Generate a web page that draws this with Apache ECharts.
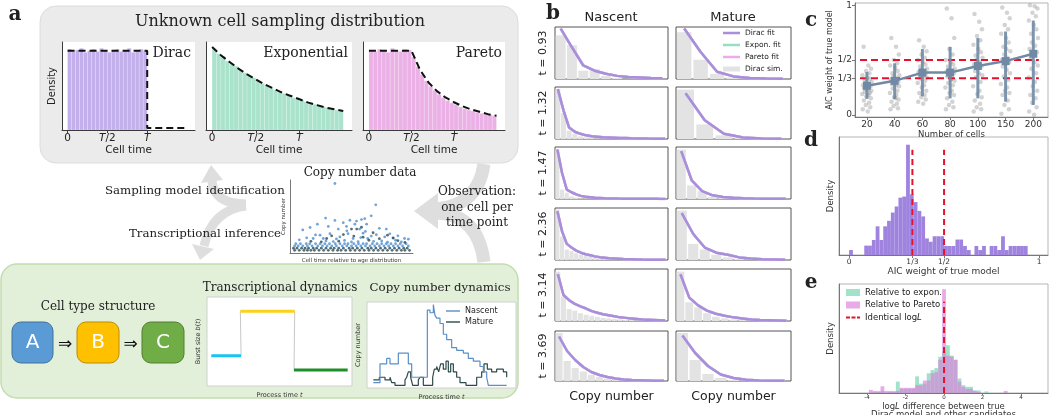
<!DOCTYPE html>
<html>
<head>
<meta charset="utf-8">
<script src="https://cdn.jsdelivr.net/npm/echarts@6/dist/echarts.min.js"></script>
<style>
html, body { margin: 0; padding: 0; background: #fff; }
#chart { width: 1050px; height: 415px; }
</style>
</head>
<body>
<div id="chart"></div>
<script>
var SERIF = 'DejaVu Serif';
var SANS = 'DejaVu Sans';

// panel a: sampling densities, time in units of T
var timeTicks = [0, 0.5, 1];
var timeTickLabels = ['0', '{i|T}/2', '{i|T}'];
var diracHist = [1.02,0.99,1.01,1.03,0.98,1.0,1.02,0.99,1.03,1.0,0.98,1.01,1.02,0.99,1.0,1.03,0.98,1.01,1.02,1.0];
var expHist = [0.98,0.92,0.89,0.83,0.80,0.77,0.72,0.69,0.65,0.63,0.59,0.56,0.54,0.51,0.48,0.46,0.44,0.42,0.39,0.38,0.36,0.34,0.33,0.31,0.29,0.28,0.27,0.25,0.24,0.23];
var paretoHist = [1.01,0.99,1.02,1.0,0.98,1.03,1.0,0.99,1.02,1.01,0.92,0.8,0.7,0.62,0.55,0.5,0.45,0.41,0.37,0.34,0.32,0.29,0.27,0.25,0.24,0.22,0.21,0.2,0.19,0.18];
var diracLine = [[0, 1], [1, 1], [1, 0.025], [1.5, 0.025]];
var expLineT = [0,0.1,0.2,0.3,0.4,0.5,0.6,0.7,0.8,0.9,1.0,1.1,1.2,1.3,1.4,1.5];
var expLine = [1.0,0.9,0.82,0.74,0.67,0.61,0.55,0.5,0.45,0.41,0.37,0.33,0.3,0.27,0.25,0.23];
var paretoLineT = [0,0.5,0.6,0.7,0.8,0.9,1.0,1.1,1.2,1.3,1.4,1.5];
var paretoLine = [1,1,0.76,0.6,0.49,0.41,0.35,0.3,0.26,0.23,0.2,0.18];

// copy number data scatter (cell time 0-100, copy number)
var nascentPts = [[35.7,30.4],[70.9,20.7],[67,15.7],[27.7,14.7],[35.7,13.6],[48.6,13.7],[58.6,14],[61.4,14.4],[8,9.3],[14.3,10.4],[20.6,11.9],[22.9,6.9],[30,10.9],[38.6,9.7],[42.9,12.6],[52.9,11.9],[57,9.7],[63,11.9],[74,10],[80,9.7],[11.4,5.7],[17,5.4],[25.7,5.4],[34.3,4],[40,6.1],[47,7.6],[51.4,5.4],[55.7,4],[64,5.4],[71.4,7.1],[78.6,6.1],[85.7,5.7],[90,6.6],[95.7,5.4],[99,5.1],[31.4,7.6],[45.7,10.9],[54.3,13.3],[19,7],[44,4.5],[60,7.8],[67,6.5],[76,4.3],[83,7.5],[88,4.6],[93,3.9],[5,4.8],[28,4.3],[37,5.2],[50,3.8],[58,5.8],[69,4.1],[81,3.7],[62,8.6],[46,8.9]];
var maturePts = [[50,9.7],[54.5,9.7],[58.6,10.5],[68.6,8],[81,6.9],[28.6,5.4],[32.9,6.6],[43,7.2],[60,6],[74,5.3],[90,4.4],[15,4.1],[39,4.2],[65,4.6],[86,5.6],[52,6.5],[24,3.9],[96,3.6]];
var bandBlue3 = [2,6,11,14,19,23,27,31,36,40,44,47,52,56,60,63,68,72,76,80,84,88,92,97];
var bandBlue2 = [1,4,8,12,16,21,25,29,33,37,42,46,50,54,58,62,66,70,74,78,82,86,90,94,99];
var bandDark1 = [0,3,7,10,13,17,20,24,28,32,35,39,43,48,51,55,59,64,67,71,75,79,83,87,91,95,98];
var bandDark0 = [1,5,9,12,15,18,22,26,30,34,38,41,45,49,53,57,61,65,69,73,77,81,85,89,93,96,100];

// transcriptional dynamics: three stages
var stageStart = [3, 23, 60];
var stageEnd = [23.5, 60.5, 97];
var burstSize = [0.34, 0.84, 0.18];
var stageColors = ['#19c3f5', '#ffd21a', '#1f8f2a'];

// copy number dynamics (process time 0-100)
var nascentT = [0,5,10,12.5,18.75,26.25,28.75,40.5,42.5,45,46.25,47.5,50,52.5,55,58.75,62.5,67.5,71.25,75,80,82.5,85,86.25,100];
var nascentN = [2,9,11,9,13,9,4,29,28,31,27,26,24,20,18,15,14,13,11,10,8,6,4,1,1];
var matureT = [0,4.5,8.75,12.5,13.75,16.25,23.75,25,26.25,28,29.5,33.75,35,37.5,41.25,44.5,45.75,47.5,49,50.5,52.5,54.5,56.25,58,60,62.5,65,69.5,73.75,77.5,81.25,83,85.5,88.75,92.5,97.5,100];
var matureN = [3,4,3,4,2,1,3,4,6,4,1,3,4,1,1,4,7,8,6,9,7,10,6,9,6,4,2,1,1,4,6,9,7,6,7,6,4];

// panel b: simulated histograms and fits, per time point
var tLabels = ['0.93', '1.32', '1.47', '2.36', '3.14', '3.69'];
var nascentSim = [
    [0.84,0.65,0.16,0.19,0.06,0.02,0,0,0,0],
    [0.96,0.5,0.16,0.1,0.05,0.03,0.02,0.01,0,0,0,0,0,0,0,0,0,0,0,0],
    [0.95,0.18,0.12,0.05,0.03,0.01,0.01,0,0,0,0,0,0,0,0,0,0,0,0,0,0,0,0,0],
    [0.97,0.45,0.2,0.17,0.13,0.1,0.08,0.06,0.05,0.04,0.03,0.02,0.02,0.01,0.01,0.01,0,0,0,0,0,0,0,0],
    [0.95,0.47,0.23,0.2,0.15,0.12,0.1,0.08,0.06,0.05,0.04,0.03,0.02,0.02,0.01,0.01,0,0,0,0],
    [0.96,0.4,0.26,0.19,0.12,0.08,0.05,0.03,0.02,0.01,0,0,0,0]
];
var nascentFit = [
    [0.97,0.61,0.26,0.16,0.10,0.06,0.04,0.03,0.02,0.015],
    [0.96,0.55,0.22,0.14,0.1,0.07,0.055,0.045,0.035,0.03,0.025,0.02,0.017,0.014,0.012,0.01,0.008,0.007,0.006,0.005],
    [0.95,0.5,0.18,0.13,0.09,0.06,0.045,0.035,0.025,0.02,0.015,0.012,0.01,0.008,0.007,0.006,0.005,0.004,0.004,0.003,0.003,0.003,0.002,0.002],
    [0.94,0.55,0.31,0.24,0.18,0.14,0.11,0.09,0.07,0.055,0.045,0.035,0.03,0.025,0.02,0.016,0.013,0.01,0.008,0.007,0.006,0.005,0.004,0.003],
    [0.9,0.5,0.4,0.33,0.28,0.24,0.19,0.16,0.13,0.11,0.09,0.07,0.06,0.05,0.04,0.03,0.025,0.02,0.015,0.01],
    [0.89,0.6,0.42,0.28,0.18,0.12,0.08,0.05,0.03,0.02,0.015,0.01,0.005,0.003]
];
var matureSim = [
    [0.9,0.37,0.1,0.03,0.01,0,0],
    [0.95,0.28,0.07,0.02,0,0],
    [0.95,0.26,0.15,0.04,0.02,0.01,0,0,0,0,0],
    [0.95,0.31,0.2,0.1,0.05,0.02,0.01,0,0,0],
    [0.95,0.36,0.26,0.15,0.08,0.05,0.03,0.02,0.01,0,0,0,0],
    [0.96,0.42,0.14,0.06,0.02,0.01,0,0,0]
];
var matureFit = [
    [0.97,0.52,0.14,0.05,0.02,0.01,0.005],
    [0.88,0.36,0.1,0.03,0.01,0.005],
    [0.92,0.36,0.15,0.07,0.04,0.025,0.015,0.01,0.006,0.004,0.003],
    [0.9,0.5,0.24,0.14,0.1,0.05,0.03,0.015,0.01,0.005],
    [0.9,0.45,0.3,0.2,0.14,0.1,0.07,0.05,0.03,0.02,0.015,0.01,0.005],
    [0.91,0.56,0.3,0.13,0.06,0.025,0.01,0.005,0.003]
];

// panel c: AIC weight of true model vs number of cells
var cellCounts = ['20', '40', '60', '80', '100', '150', '200'];
var jitter = [-0.12,0.05,0.15,-0.03,0.09,-0.16,0.02,0.11,-0.08,0.17,-0.05,0.07,-0.14,0.13,0.0,-0.1,0.04,0.16,-0.07,0.1,-0.17,0.06,-0.02,0.14,-0.11,0.08,-0.04,0.12,-0.15,0.03];
var aicWeights = [
    [0.62,0.45,0.42,0.4,0.38,0.36,0.34,0.33,0.31,0.3,0.29,0.28,0.27,0.26,0.25,0.24,0.23,0.22,0.21,0.2,0.19,0.18,0.17,0.15,0.13,0.11,0.09,0.07,0.05,0.03],
    [0.7,0.62,0.55,0.5,0.47,0.45,0.43,0.4,0.38,0.36,0.35,0.33,0.32,0.3,0.29,0.28,0.27,0.26,0.24,0.22,0.2,0.18,0.16,0.14,0.12,0.1,0.08,0.06,0.05,0.15],
    [0.68,0.62,0.58,0.55,0.52,0.5,0.48,0.46,0.44,0.42,0.41,0.4,0.39,0.38,0.37,0.36,0.35,0.34,0.33,0.31,0.29,0.27,0.25,0.22,0.2,0.18,0.16,0.14,0.12,0.1],
    [0.97,0.88,0.7,0.6,0.55,0.5,0.48,0.46,0.44,0.42,0.41,0.4,0.39,0.38,0.36,0.35,0.33,0.31,0.29,0.27,0.25,0.22,0.2,0.18,0.15,0.12,0.09,0.07,0.05,0.32],
    [0.92,0.85,0.78,0.72,0.68,0.64,0.6,0.57,0.54,0.52,0.5,0.48,0.46,0.44,0.42,0.4,0.38,0.36,0.34,0.3,0.26,0.22,0.19,0.16,0.13,0.1,0.07,0.05,0.03,0.45],
    [0.98,0.93,0.88,0.82,0.78,0.74,0.7,0.66,0.62,0.58,0.55,0.52,0.5,0.48,0.46,0.44,0.41,0.38,0.35,0.32,0.28,0.25,0.22,0.2,0.18,0.13,0.09,0.05,0.01,0.6],
    [1.0,0.99,0.97,0.93,0.9,0.86,0.82,0.78,0.74,0.7,0.66,0.63,0.6,0.57,0.54,0.51,0.48,0.45,0.42,0.38,0.34,0.3,0.26,0.22,0.18,0.15,0.11,0.07,0.03,0.0]
];
var aicMean = [0.265, 0.31, 0.385, 0.385, 0.445, 0.49, 0.557];
var aicLow = [0.145, 0.145, 0.17, 0.15, 0.15, 0.12, 0.09];
var aicHigh = [0.39, 0.47, 0.6, 0.62, 0.7, 0.76, 0.86];
var refLevels = [1 / 3, 1 / 2];

// panel d: histogram of AIC weights, bins of 0.02 from 0
var aicBins = [0.045,0,0,0,0.085,0.085,0.136,0.26,0.136,0.26,0.31,0.385,0.44,0.52,0.53,1.0,0.55,0.48,0.4,0.35,0.15,0.12,0.17,0.17,0.17,0.082,0.082,0.082,0.14,0.14,0.082,0.045,0,0.082,0.045,0.082,0,0.082,0.082,0.045,0.17,0.045,0.082,0.082,0.082,0.082,0.082];

// panel e: log-likelihood difference histograms, bin centers -3.8..3.4 step 0.2
var llExpon = [0,0.01,0.02,0.02,0,0.01,0.02,0.11,0.04,0.04,0.04,0.04,0.16,0.09,0.09,0.19,0.22,0.24,0.35,0.4,0.46,0.36,0.32,0.14,0.075,0.06,0.06,0.025,0.025,0,0.015,0,0,0,0,0,0];
var llPareto = [0.03,0.02,0.01,0.065,0.02,0.02,0.01,0.02,0.05,0.05,0.05,0.05,0.075,0.075,0.12,0.12,0.19,0.2,0.32,1.0,0.36,0.35,0.32,0.11,0.06,0.04,0.04,0.02,0.01,0,0,0,0,0,0,0.02,0];

function merge(a, b) {
    if (b) for (var k in b) a[k] = b[k];
    return a;
}

function pairs(xs, ys) {
    return xs.map(function (x, i) { return [x, ys[i]]; });
}

function tickLabel(values, labels) {
    return function (v) {
        for (var i = 0; i < values.length; i++) {
            if (Math.abs(v - values[i]) < 1e-6) return labels[i];
        }
        return '';
    };
}

function histRender(binW, gap, fill, stroke) {
    return function (params, api) {
        var c = api.value(0), h = api.value(1);
        if (!h) return null;
        var p0 = api.coord([c - binW * (1 - gap) / 2, h]);
        var p1 = api.coord([c + binW * (1 - gap) / 2, 0]);
        return {
            type: 'rect',
            shape: { x: p0[0], y: p0[1], width: p1[0] - p0[0], height: p1[1] - p0[1] },
            style: { fill: fill, stroke: stroke || null, lineWidth: stroke ? 0.5 : 0 }
        };
    };
}

var grids = [], xAxes = [], yAxes = [], series = [];

function addGrid(box, gridOpt, xOpt, yOpt) {
    var g = merge({ left: box[0], top: box[1], width: box[2], height: box[3], containLabel: false, outerBoundsMode: 'none' }, gridOpt);
    grids.push(g);
    var i = grids.length - 1;
    var base = function () {
        return { type: 'value', gridIndex: i, axisLine: { show: false }, axisTick: { show: false }, axisLabel: { show: false }, splitLine: { show: false } };
    };
    var xa = merge(base(), xOpt), ya = merge(base(), yOpt);
    // spines stay on the grid edge, not at zero
    xa.axisLine = merge({ onZero: false }, xa.axisLine);
    ya.axisLine = merge({ onZero: false }, ya.axisLine);
    xAxes.push(xa);
    yAxes.push(ya);
    return i;
}

function addSeries(i, s) {
    s.xAxisIndex = i;
    s.yAxisIndex = i;
    series.push(s);
}

var spine = { show: true, lineStyle: { color: '#3a3a3a', width: 1 } };
var italicRich = { i: { fontStyle: 'italic', fontFamily: SANS, fontSize: 10.5, color: '#222' } };

// ---- panel a top: three sampling densities
var densityBoxes = [[62, 42, 133, 88], [206, 42, 146, 88], [363, 42, 142, 88]];
var densityHists = [diracHist, expHist, paretoHist];
var densityFills = ['#c2afeb', '#a9e3cc', '#ebb1e6'];
var densityLines = [diracLine, pairs(expLineT, expLine), pairs(paretoLineT, paretoLine)];
var densityMax = [1.11, 1.06, 1.11];

for (var k = 0; k < 3; k++) {
    var gi = addGrid(densityBoxes[k], { show: true, backgroundColor: '#fff', borderWidth: 0 },
        {
            min: -0.07, max: 1.6, axisLine: spine,
            axisTick: { show: true, customValues: timeTicks, length: 3, lineStyle: { color: '#3a3a3a' } },
            axisLabel: { show: true, customValues: timeTicks, formatter: tickLabel(timeTicks, timeTickLabels), fontFamily: SANS, fontSize: 10.5, color: '#222', margin: 3, rich: italicRich },
            name: 'Cell time', nameLocation: 'middle', nameGap: 15, nameTextStyle: { fontFamily: SANS, fontSize: 10.5, color: '#222' }
        },
        {
            min: 0, max: densityMax[k], axisLine: spine,
            name: k === 0 ? 'Density' : '', nameLocation: 'middle', nameRotate: 90, nameGap: 5,
            nameTextStyle: { fontFamily: SANS, fontSize: 10, color: '#222' }
        });
    addSeries(gi, {
        type: 'custom', clip: true,
        renderItem: histRender(0.05, 0, densityFills[k], 'rgba(255,255,255,0.35)'),
        data: densityHists[k].map(function (v, j) { return [0.025 + 0.05 * j, v]; })
    });
    addSeries(gi, {
        type: 'line', data: densityLines[k], symbol: 'none', z: 5,
        lineStyle: { color: '#111', width: 2, type: [7, 4] }
    });
}

// ---- panel a middle: copy number data
var gs = addGrid([290, 180, 123, 73], {},
    { min: -3, max: 103, axisLine: { show: true, lineStyle: { color: '#555', width: 0.8 } },
      name: 'Cell time relative to age distribution', nameLocation: 'middle', nameGap: 5,
      nameTextStyle: { fontFamily: SANS, fontSize: 5.5, color: '#333' } },
    { min: -1.2, max: 32, axisLine: { show: true, lineStyle: { color: '#555', width: 0.8 } },
      name: 'Copy number', nameLocation: 'middle', nameRotate: 90, nameGap: 3,
      nameTextStyle: { fontFamily: SANS, fontSize: 5.5, color: '#333' } });
var bandPts = function (xs, y) { return xs.map(function (x) { return [x, y]; }); };
addSeries(gs, { type: 'scatter', symbolSize: 2.8, itemStyle: { color: '#2a4a50' },
    data: bandPts(bandDark0, 0).concat(bandPts(bandDark1, 1)) });
addSeries(gs, { type: 'scatter', symbolSize: 2.8, itemStyle: { color: '#4d8fcf' },
    data: nascentPts.concat(bandPts(bandBlue2, 2), bandPts(bandBlue3, 3)) });
addSeries(gs, { type: 'scatter', symbolSize: 2.8, itemStyle: { color: '#2a4a50' }, data: maturePts });

// ---- panel a bottom: transcriptional dynamics
var smallName = function () {
    return { fontFamily: SANS, fontSize: 6.5, color: '#333', rich: { i: { fontStyle: 'italic', fontFamily: SANS, fontSize: 6.5, color: '#333' } } };
};
var gb = addGrid([207, 297, 145, 89], { show: true, backgroundColor: '#fff', borderColor: '#cfcfcf', borderWidth: 1 },
    { min: 0, max: 100, name: 'Process time {i|t}', nameLocation: 'middle', nameGap: 6, nameTextStyle: smallName() },
    { min: 0, max: 1, name: 'Burst size {i|b}({i|t})', nameLocation: 'middle', nameRotate: 90, nameGap: 5, nameTextStyle: smallName() });
var stepPts = [];
for (var s = 0; s < burstSize.length; s++) {
    stepPts.push([stageStart[s], burstSize[s]], [stageEnd[s], burstSize[s]]);
}
addSeries(gb, { type: 'line', data: stepPts, symbol: 'none', lineStyle: { color: '#c8c8c8', width: 1 } });
for (var s2 = 0; s2 < burstSize.length; s2++) {
    addSeries(gb, { type: 'line', symbol: 'none', z: 4, lineStyle: { color: stageColors[s2], width: 3 },
        data: [[stageStart[s2], burstSize[s2]], [stageEnd[s2], burstSize[s2]]] });
}

// ---- panel a bottom: copy number dynamics
var gc = addGrid([367, 302, 149, 86], { show: true, backgroundColor: '#fff', borderColor: '#cfcfcf', borderWidth: 1 },
    { min: -4.75, max: 107, name: 'Process time {i|t}', nameLocation: 'middle', nameGap: 6, nameTextStyle: smallName() },
    { min: 0, max: 32, name: 'Copy number', nameLocation: 'middle', nameRotate: 90, nameGap: 5, nameTextStyle: smallName() });
addSeries(gc, { name: 'Mature', type: 'line', step: 'end', symbol: 'none', data: pairs(matureT, matureN),
    itemStyle: { color: '#2d4a4a' }, lineStyle: { color: '#2d4a4a', width: 1.2 } });
addSeries(gc, { name: 'Nascent', type: 'line', step: 'end', symbol: 'none', data: pairs(nascentT, nascentN),
    itemStyle: { color: '#5a8fc8' }, lineStyle: { color: '#5a8fc8', width: 1.2 } });

// ---- panel b: 6 x 2 small histograms
var rowTops = [27, 87, 147, 208, 269, 331];
var colLeft = [555, 676];
var colWidth = [113, 115];
var fitColors = { dirac: '#a98fdb', expon: '#96dfc4', pareto: '#eeaaea' };
for (var r = 0; r < 6; r++) {
    for (var c = 0; c < 2; c++) {
        var sim = c === 0 ? nascentSim[r] : matureSim[r];
        var fit = c === 0 ? nascentFit[r] : matureFit[r];
        var xo = { min: -0.5, max: sim.length - 0.5 };
        if (r === 5) merge(xo, { name: 'Copy number', nameLocation: 'middle', nameGap: 9, nameTextStyle: { fontFamily: SANS, fontSize: 12.5, color: '#222' } });
        var yo = { min: 0, max: 1 };
        if (c === 0) merge(yo, { name: 't = ' + tLabels[r], nameLocation: 'middle', nameRotate: 90, nameGap: 6, nameTextStyle: { fontFamily: SANS, fontSize: 11, color: '#222' } });
        var gp = addGrid([colLeft[c], rowTops[r], colWidth[c], r === 5 ? 50 : 52],
            { show: true, backgroundColor: '#fff', borderColor: '#555', borderWidth: 1 }, xo, yo);
        var first = (r === 0 && c === 1);
        addSeries(gp, { name: first ? 'Dirac sim.' : '', type: 'custom', clip: true, itemStyle: { color: '#e3e3e3' },
            renderItem: histRender(1, 0.12, '#e3e3e3'),
            data: sim.map(function (v, j) { return [j, v]; }) });
        var fitPts = fit.map(function (v, j) { return [j, v]; });
        addSeries(gp, { name: first ? 'Expon. fit' : '', type: 'line', symbol: 'none', data: fitPts, z: 3,
            itemStyle: { color: fitColors.expon }, lineStyle: { color: fitColors.expon, width: 2.5 } });
        addSeries(gp, { name: first ? 'Pareto fit' : '', type: 'line', symbol: 'none', data: fitPts, z: 4,
            itemStyle: { color: fitColors.pareto }, lineStyle: { color: fitColors.pareto, width: 2.5 } });
        addSeries(gp, { name: first ? 'Dirac fit' : '', type: 'line', symbol: 'none', data: fitPts, z: 5,
            itemStyle: { color: fitColors.dirac }, lineStyle: { color: fitColors.dirac, width: 2.5 } });
    }
}

// ---- panel c
var cIdx = [0, 1, 2, 3, 4, 5, 6];
var cTicks = [0, 1 / 3, 1 / 2, 1];
var axText = { fontFamily: SANS, fontSize: 9, color: '#333' };
var gC = addGrid([855, 3, 193, 114], { show: true, borderColor: '#b5b5b5', borderWidth: 1 },
    { min: -0.43, max: 6.53, axisLine: { show: true, lineStyle: { color: '#777' } },
      axisTick: { show: true, customValues: cIdx, length: 3, lineStyle: { color: '#777' } },
      axisLabel: merge({ show: true, customValues: cIdx, margin: 3, formatter: function (v) { return cellCounts[v]; } }, axText),
      name: 'Number of cells', nameLocation: 'middle', nameGap: 11, nameTextStyle: { fontFamily: SANS, fontSize: 8.5, color: '#333' } },
    { min: -0.02, max: 1.02, axisLine: { show: true, lineStyle: { color: '#777' } },
      axisTick: { show: true, customValues: cTicks, length: 3, lineStyle: { color: '#777' } },
      axisLabel: merge({ show: true, customValues: cTicks, margin: 3, formatter: tickLabel(cTicks, ['0', '1/3', '1/2', '1']) }, axText),
      name: 'AIC weight of true model', nameLocation: 'middle', nameRotate: 90, nameGap: 15,
      nameTextStyle: { fontFamily: SANS, fontSize: 8, color: '#333' } });
var cPts = [];
aicWeights.forEach(function (ws, ci) {
    ws.forEach(function (w, j) { cPts.push([ci + jitter[j], w]); });
});
addSeries(gC, { type: 'scatter', data: cPts, symbolSize: 4.5, itemStyle: { color: 'rgba(110,110,110,0.38)' } });
refLevels.forEach(function (lv) {
    addSeries(gC, { type: 'line', symbol: 'none', z: 3, data: [[-0.25, lv], [6.2, lv]],
        lineStyle: { color: '#e8112d', width: 2, type: [7, 4] } });
});
addSeries(gC, { type: 'custom', z: 4, encode: { x: 0, y: [1, 2] },
    data: cIdx.map(function (i) { return [i, aicLow[i], aicHigh[i]]; }),
    renderItem: function (params, api) {
        var p = api.coord([api.value(0), api.value(1)]);
        var q = api.coord([api.value(0), api.value(2)]);
        return { type: 'line', shape: { x1: p[0], y1: p[1], x2: q[0], y2: q[1] }, style: { stroke: 'rgba(112,138,165,0.9)', lineWidth: 3 } };
    } });
addSeries(gC, { type: 'line', z: 5, data: pairs(cIdx, aicMean), symbol: 'rect', symbolSize: 8,
    itemStyle: { color: '#7089a4' }, lineStyle: { color: '#7089a4', width: 2.5 } });

// ---- panel d
var dTicks = [0, 1 / 3, 1 / 2, 1];
var gD = addGrid([839, 137, 209, 118], { show: true, borderColor: '#b5b5b5', borderWidth: 1 },
    { min: -0.053, max: 1.047, axisLine: { show: true, lineStyle: { color: '#777' } },
      axisTick: { show: true, customValues: dTicks, length: 3, lineStyle: { color: '#777' } },
      axisLabel: { show: true, customValues: dTicks, margin: 3, formatter: tickLabel(dTicks, ['0', '1/3', '1/2', '1']), fontFamily: SANS, fontSize: 7.5, color: '#333' },
      name: 'AIC weight of true model', nameLocation: 'middle', nameGap: 11, nameTextStyle: { fontFamily: SANS, fontSize: 9, color: '#333' } },
    { min: 0, max: 1.07, axisLine: { show: true, lineStyle: { color: '#777' } },
      name: 'Density', nameLocation: 'middle', nameRotate: 90, nameGap: 4, nameTextStyle: { fontFamily: SANS, fontSize: 8.5, color: '#333' } });
addSeries(gD, { type: 'custom', clip: true, renderItem: histRender(0.02, 0, '#9f83df'),
    data: aicBins.map(function (v, j) { return [0.01 + 0.02 * j, v]; }) });
refLevels.forEach(function (lv) {
    addSeries(gD, { type: 'line', symbol: 'none', z: 4, data: [[lv, 0], [lv, 0.955]],
        lineStyle: { color: '#e8112d', width: 2, type: [6, 4] } });
});

// ---- panel e
var eTicks = [-4, -2, 0, 2, 4];
var gE = addGrid([839, 284, 209, 109], { show: true, borderColor: '#b5b5b5', borderWidth: 1 },
    { min: -5.455, max: 5.4, axisLine: { show: true, lineStyle: { color: '#777' } },
      axisTick: { show: true, customValues: eTicks, length: 2, lineStyle: { color: '#777' } },
      axisLabel: { show: true, customValues: eTicks, margin: 2, fontFamily: SANS, fontSize: 5.5, color: '#333' },
      name: 'log{i|L} difference between true\nDirac model and other candidates', nameLocation: 'middle', nameGap: 0,
      nameTextStyle: { fontFamily: SANS, fontSize: 8.5, color: '#333', lineHeight: 8.5,
          rich: { i: { fontStyle: 'italic', fontFamily: SANS, fontSize: 8.5, color: '#333', lineHeight: 8.5 } } } },
    { min: 0, max: 1.05, axisLine: { show: true, lineStyle: { color: '#777' } },
      name: 'Density', nameLocation: 'middle', nameRotate: 90, nameGap: 4, nameTextStyle: { fontFamily: SANS, fontSize: 8.5, color: '#333' } });
addSeries(gE, { name: 'Relative to expon.', type: 'custom', clip: true, itemStyle: { color: 'rgba(128,216,184,0.75)' },
    renderItem: histRender(0.2, 0, 'rgba(128,216,184,0.75)'),
    data: llExpon.map(function (v, j) { return [-3.8 + 0.2 * j, v]; }) });
addSeries(gE, { name: 'Relative to Pareto', type: 'custom', clip: true, itemStyle: { color: 'rgba(218,128,218,0.65)' },
    renderItem: histRender(0.2, 0, 'rgba(218,128,218,0.65)'),
    data: llPareto.map(function (v, j) { return [-3.8 + 0.2 * j, v]; }) });
addSeries(gE, { name: 'Identical logL', type: 'line', symbol: 'none', z: 5, data: [[0, 0], [0, 0.88]],
    itemStyle: { color: '#e8112d' }, lineStyle: { color: '#e8112d', width: 2, type: [6, 4] } });

// ---- legends (line icons drawn as thin bars)
var thinLine = 'path://M0,0H14V1.4H0Z';
var fitLine = 'path://M0,0H17V2.5H0Z';
var dashLine = 'path://M0,0H4V2H0Z M5.5,0H9.5V2H5.5Z M11,0H14V2H11Z';
var legends = [
    { data: [{ name: 'Nascent', icon: thinLine }, { name: 'Mature', icon: thinLine }], left: 446, top: 307, orient: 'vertical',
      itemWidth: 14, itemHeight: 6, itemGap: 3, padding: 0,
      selectedMode: false, textStyle: { fontFamily: SANS, fontSize: 8, color: '#222' } },
    { data: [{ name: 'Dirac fit', icon: fitLine }, { name: 'Expon. fit', icon: fitLine }, { name: 'Pareto fit', icon: fitLine }, { name: 'Dirac sim.', icon: 'rect' }],
      left: 723, top: 29, orient: 'vertical', itemWidth: 17, itemHeight: 5, itemGap: 4, padding: 0,
      selectedMode: false, textStyle: { fontFamily: SANS, fontSize: 7.5, color: '#222' } },
    { data: [{ name: 'Relative to expon.', icon: 'rect' }, { name: 'Relative to Pareto', icon: 'rect' }, { name: 'Identical logL', icon: dashLine }],
      left: 846, top: 288, orient: 'vertical', itemWidth: 14, itemHeight: 7, itemGap: 3.5, padding: 0,
      selectedMode: false,
      formatter: function (n) { return n === 'Identical logL' ? 'Identical log{i|L}' : n; },
      textStyle: { fontFamily: SANS, fontSize: 8.5, color: '#222', rich: { i: { fontStyle: 'italic', fontFamily: SANS, fontSize: 8.5, color: '#222' } } } }
];

// ---- decorations and free text
function txt(x, y, s, size, st) {
    return { type: 'text', x: x, y: y, z: 50,
        style: merge({ text: s, fontFamily: SERIF, fontSize: size, fill: '#222', align: 'center', verticalAlign: 'middle' }, st) };
}
var arrowGray = '#dedede';
function curve(x1, y1, cx, cy, x2, y2, w) {
    return { type: 'bezierCurve', z: -5, shape: { x1: x1, y1: y1, cpx1: cx, cpy1: cy, x2: x2, y2: y2 },
        style: { stroke: arrowGray, lineWidth: w, fill: 'none' } };
}
function head(pts) {
    return { type: 'polygon', z: -5, shape: { points: pts }, style: { fill: arrowGray } };
}

var gfx = [
    { type: 'rect', z: -10, shape: { x: 40, y: 6, width: 478, height: 157, r: 16 }, style: { fill: '#ebebeb', stroke: '#dcdcdc', lineWidth: 1 } },
    { type: 'rect', z: -10, shape: { x: 1, y: 264, width: 517, height: 134, r: 16 }, style: { fill: '#e2efd9', stroke: '#c3ddb0', lineWidth: 1.5 } },
    curve(246, 204, 214, 204, 212, 181, 9),
    curve(246, 206, 212, 210, 204, 246, 9),
    head([[201, 183], [211, 165], [223, 180]]),
    head([[192, 244], [200, 260], [214, 249]]),
    curve(484, 164, 478, 206, 436, 209, 13),
    curve(484, 262, 478, 214, 436, 213, 13),
    head([[438, 193], [414, 211], [438, 229]]),
    { type: 'rect', z: -6, shape: { x: 12, y: 322, width: 41, height: 41, r: 9 }, style: { fill: '#5b9bd5', stroke: '#41719c', lineWidth: 1 } },
    { type: 'rect', z: -6, shape: { x: 77, y: 322, width: 42, height: 41, r: 9 }, style: { fill: '#ffc000', stroke: '#bc8c00', lineWidth: 1 } },
    { type: 'rect', z: -6, shape: { x: 142, y: 322, width: 42, height: 41, r: 9 }, style: { fill: '#70ad47', stroke: '#507e32', lineWidth: 1 } },
    txt(32.5, 343, 'A', 20, { fontFamily: SANS, fill: '#fff' }),
    txt(98, 343, 'B', 20, { fontFamily: SANS, fill: '#fff' }),
    txt(163, 343, 'C', 20, { fontFamily: SANS, fill: '#fff' }),
    txt(65, 345, '\u21d2', 17, { fontFamily: SANS, fill: '#111' }),
    txt(130.5, 345, '\u21d2', 17, { fontFamily: SANS, fill: '#111' }),
    txt(280, 22, 'Unknown cell sampling distribution', 16),
    txt(191, 53, 'Dirac', 14, { align: 'right' }),
    txt(348, 53, 'Exponential', 14, { align: 'right' }),
    txt(502, 53, 'Pareto', 14, { align: 'right' }),
    txt(360, 173, 'Copy number data', 12),
    txt(105, 191, 'Sampling model identification', 11.8, { align: 'left' }),
    txt(129, 234, 'Transcriptional inference', 11.8, { align: 'left' }),
    txt(477, 192, 'Observation:', 12),
    txt(477, 208, 'one cell per', 12),
    txt(477, 223, 'time point', 12),
    txt(98, 307, 'Cell type structure', 12),
    txt(280, 288, 'Transcriptional dynamics', 12),
    txt(440, 288, 'Copy number dynamics', 11.8),
    txt(611, 18, 'Nascent', 13, { fontFamily: SANS }),
    txt(733, 18, 'Mature', 13, { fontFamily: SANS }),
    txt(15, 15, 'a', 20, { fontWeight: 'bold' }),
    txt(553, 14, 'b', 20, { fontWeight: 'bold' }),
    txt(811, 21, 'c', 20, { fontWeight: 'bold' }),
    txt(811, 141, 'd', 20, { fontWeight: 'bold' }),
    txt(811, 283, 'e', 20, { fontWeight: 'bold' })
];

var option = {
    animation: false,
    backgroundColor: '#fff',
    grid: grids,
    xAxis: xAxes,
    yAxis: yAxes,
    legend: legends,
    graphic: gfx,
    series: series
};

var myChart = echarts.init(document.getElementById('chart'));
myChart.setOption(option);
</script>
</body>
</html>
